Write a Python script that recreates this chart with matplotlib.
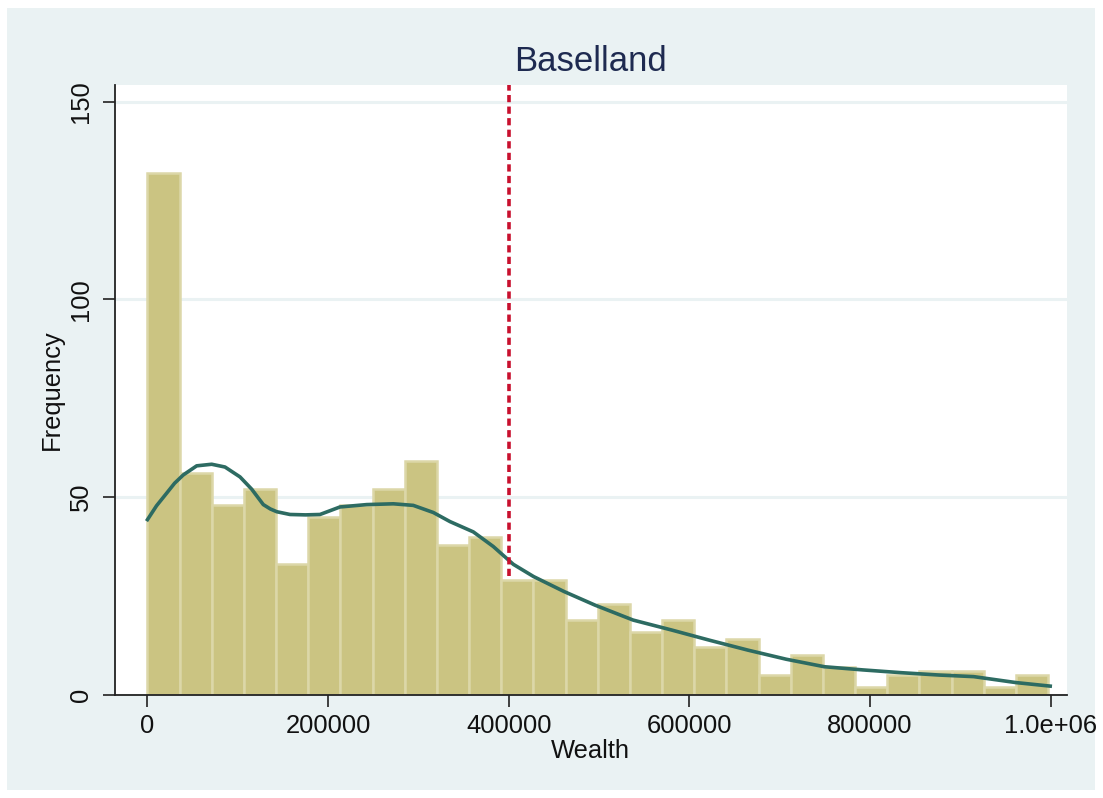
import matplotlib.pyplot as plt
from matplotlib.patches import Rectangle
import numpy as np

plt.rcParams['font.family'] = ['Liberation Sans', 'DejaVu Sans']

# histogram of wealth, 28 bins starting at 0
bin_start = 0
bin_width = 35620
counts = [132, 56, 48, 52, 33, 45, 48, 52, 59, 38, 40, 29, 29, 19,
          23, 16, 19, 12, 14, 5, 10, 7, 2, 5, 6, 6, 2, 5]

# kernel density overlay, scaled to frequency
kde_x = [0, 10000, 21260, 30000, 39650, 54490, 71100, 85830, 102440, 115390,
         128240, 136000, 143080, 157810, 175000, 191030, 213180, 242740,
         272200, 294350, 316500, 334990, 360790, 382940, 405090, 427570,
         461460, 495350, 537760, 580180, 622480, 664900, 707310, 749640,
         792030, 834440, 876740, 914950, 961570, 999660]
kde_y = [44.3, 47.8, 51.0, 53.5, 55.6, 57.9, 58.3, 57.6, 55.1, 52.0, 48.1,
         47.0, 46.3, 45.6, 45.5, 45.6, 47.5, 48.1, 48.3, 47.9, 46.1, 43.8,
         41.2, 37.5, 33.0, 29.9, 26.1, 22.7, 18.9, 16.4, 13.8, 11.3, 9.0,
         7.1, 6.3, 5.6, 5.0, 4.6, 3.1, 2.2]

# reference line
ref_x = 400000
ref_y = [30, 154.2]

title = "Baselland"
xticks = [0, 200000, 400000, 600000, 800000, 1000000]
xtick_labels = ["0", "200000", "400000", "600000", "800000", "1.0e+06"]
yticks = [0, 50, 100, 150]

bg = "#EAF2F3"

fig = plt.figure(figsize=(11.03, 7.98), dpi=100)
fig.patch.set_facecolor("white")
fig.patches.append(Rectangle((7 / 1103, 8 / 798), 1088 / 1103, 782 / 798,
                             transform=fig.transFigure, facecolor=bg,
                             edgecolor="none", zorder=-10))

ax = fig.add_axes([0.104, 0.1293, 0.8634, 0.7642])
ax.set_facecolor("white")

lefts = bin_start + bin_width * np.arange(len(counts))
ax.bar(lefts, counts, width=bin_width, align="edge", color="#CBC482",
       edgecolor="#DCD7A8", linewidth=1.8, zorder=2)
ax.plot(kde_x, kde_y, color="#2D6B62", linewidth=2.6, zorder=3)
ax.plot([ref_x, ref_x], ref_y, color="#C8102E", linewidth=2.6,
        linestyle=(0, (2.0, 1.2)), zorder=4)

ax.set_xlim(-36300, 1018300)
ax.set_ylim(0, 154.2)

ax.set_yticks(yticks)
ax.set_yticklabels([str(v) for v in yticks], rotation=90, va="center")
ax.set_xticks(xticks)
ax.set_xticklabels(xtick_labels)
ax.yaxis.grid(True, color=bg, linewidth=2.2, zorder=0)
ax.set_axisbelow(True)

for side in ["top", "right"]:
    ax.spines[side].set_visible(False)
for side in ["left", "bottom"]:
    ax.spines[side].set_color("#222222")
    ax.spines[side].set_linewidth(1.3)

ax.tick_params(axis="both", direction="out", length=8.5, width=1.2,
               color="#222222", labelsize=18.4, labelcolor="#111111")
ax.tick_params(axis="y", pad=7)
ax.tick_params(axis="x", pad=5)

ax.set_xlabel("Wealth", fontsize=18.4, color="#111111", labelpad=1)
ax.set_ylabel("Frequency", fontsize=18.4, color="#111111", labelpad=4)
ax.set_title(title, fontsize=25, color="#1E2A50", pad=10)

plt.savefig("out.png", dpi=100, facecolor="white")
plt.close()
